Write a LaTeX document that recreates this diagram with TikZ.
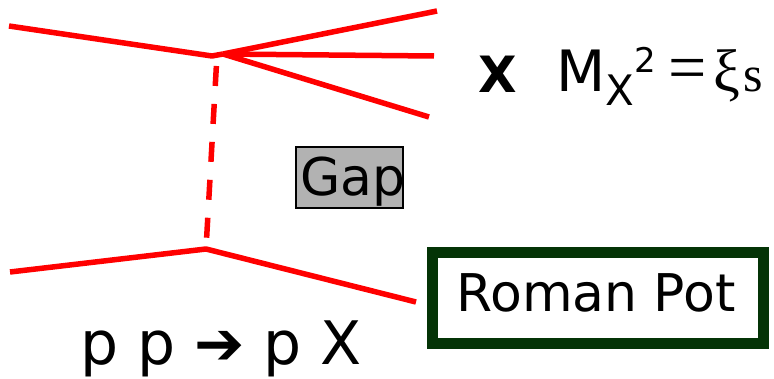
\documentclass[tikz,border=0pt]{standalone}
\usepackage{fontspec}
\setmainfont{DejaVu Sans}
\newfontfamily\serifgreek{Liberation Serif}
\definecolor{potgreen}{RGB}{4,52,6}
\definecolor{gapgray}{RGB}{178,178,178}
\tikzset{
  track/.style={red, line width=5.5pt},
  pomeron/.style={red, line width=5.5pt, dash pattern=on 20pt off 18pt, dash phase=27pt},
  lbl/.style={inner sep=0pt, outer sep=0pt, anchor=base west, text=black},
}
\begin{document}
\begin{tikzpicture}[x=1pt,y=-1pt]
\useasboundingbox (0,0) rectangle (774,379);
% coordinates
\coordinate (pa) at (9,26);
\coordinate (va) at (212,56);
\coordinate (vd) at (217,55);
\coordinate (vk) at (223,54);
\coordinate (x1) at (437,11);
\coordinate (x2) at (434,56);
\coordinate (x3) at (429,117);
\coordinate (pb) at (10,272);
\coordinate (vb) at (206,249);
\coordinate (pout) at (416,302);
% tracks
\draw[track, line join=round] (pa) -- (va) -- (vk);
\draw[track] (vk) -- (x1);
\draw[track] (vk) -- (x2);
\draw[track] (vk) -- (x3);
\draw[pomeron] (vd) -- (vb);
\draw[track, line join=round] (pb) -- (vb) -- (pout);
% gap box
\node[draw=black, line width=1.5pt, fill=gapgray, minimum width=107pt, minimum height=61pt, inner sep=0pt] (gapbox) at (349.5,177.5) {};
\node[lbl, font=\fontsize{52}{60}\selectfont] (gaptext) at (300,196) {Gap};
% roman pot
\node[draw=potgreen, line width=11pt, minimum width=331pt, minimum height=91pt, inner sep=0pt] (pot) at (598,298) {};
\node[inner sep=0pt, anchor=base, font=\fontsize{52}{60}\selectfont] (pottext) at (596,312) {Roman Pot};
% X label and mass formula
\node[lbl, font=\fontsize{50}{60}\bfseries\selectfont] (xbold) at (478,93) {X};
\node[lbl, font=\fontsize{57}{60}\selectfont] (mM) at (556,92) {M};
\node[lbl, font=\fontsize{42}{50}\selectfont] (mX) at (605,106) {X};
\node[lbl, font=\fontsize{34}{40}\selectfont] (m2) at (634,73) {2};
\node[inner sep=0pt, font=\fontsize{68}{60}\serifgreek\selectfont] (meq) at (688,75) {=};
\node[lbl, font=\fontsize{60}{60}\serifgreek\selectfont] (mxi) at (713,92) {ξ};
\node[lbl, font=\fontsize{50}{60}\serifgreek\selectfont] (ms) at (743,92) {s};
% reaction
\node[lbl, font=\fontsize{60}{70}\selectfont] (reac) at (80,364) {p p ➔ p X};
\end{tikzpicture}
\end{document}
